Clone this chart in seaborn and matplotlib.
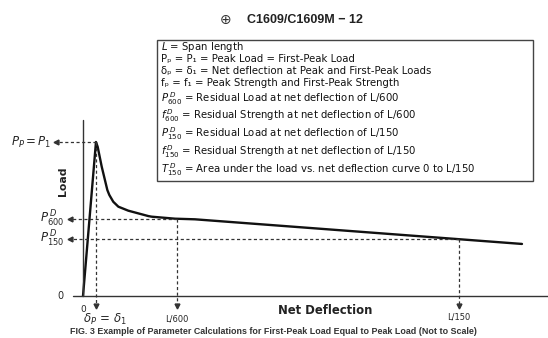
import numpy as np
import pandas as pd
import matplotlib
matplotlib.use("Agg")
import matplotlib.pyplot as plt
import matplotlib.patches as mpatches
import seaborn as sns

# ---- data (deflection in units of L/600, load in % of peak) ----
deflection = [0, 0.138, 0.156, 0.199, 0.259, 0.280, 0.322, 0.376, 0.482, 0.695, 0.731, 0.979, 1.191, 4.67]
load = [0, 100, 96.9, 84.0, 68.8, 65.6, 61.2, 58.0, 55.4, 51.9, 51.5, 50.2, 49.8, 33.8]
peak_defl = 0.138
peak_load = 100.0
L600 = 1.0
L150 = 4.0
P600 = 50.0
P150 = 37.0
x_tick_labels = ["0", r"$\delta_P\,=\,\delta_1$", "L/600", "L/150"]
y_tick_labels = ["0", r"$P_P = P_1$", r"$P_{600}^{\,D}$", r"$P_{150}^{\,D}$"]
legend_lines = [
    r"$L$ = Span length",
    "P\u209a = P\u2081 = Peak Load = First-Peak Load",
    "\u03b4\u209a = \u03b4\u2081 = Net deflection at Peak and First-Peak Loads",
    "f\u209a = f\u2081 = Peak Strength and First-Peak Strength",
    r"$P_{600}^{\,D}$ = Residual Load at net deflection of L/600",
    r"$f_{600}^{\,D}$ = Residual Strength at net deflection of L/600",
    r"$P_{150}^{\,D}$ = Residual Load at net deflection of L/150",
    r"$f_{150}^{\,D}$ = Residual Strength at net deflection of L/150",
    r"$T_{150}^{\,D}$ = Area under the load vs. net deflection curve 0 to L/150",
]
title = "C1609/C1609M \u2212 12"
caption = "FIG. 3 Example of Parameter Calculations for First-Peak Load Equal to Peak Load (Not to Scale)"

sns.set_style("white")
plt.rcParams["font.family"] = ["DejaVu Sans"]
plt.rcParams["mathtext.fontset"] = "dejavusans"

W, H = 548, 338
fig = plt.figure(figsize=(W / 100, H / 100), dpi=100)
ax = fig.add_axes([0, 0, 1, 1])
ax.set_xlim(-83 / 94, 465 / 94)
ax.set_ylim(-42 / 1.54, 296 / 1.54)
ax.axis("off")

def px(x, y):
    return (x / W, 1 - y / H)

df = pd.DataFrame({"Net Deflection": deflection, "Load": load})
sns.lineplot(data=df, x="Net Deflection", y="Load", ax=ax, color="#111111",
             linewidth=1.7, sort=False, estimator=None)

# axes lines
ax.plot([-0.106, 4.95], [0, 0], color="#333333", lw=1.0)
ax.plot([0, 0], [0, 114], color="#333333", lw=1.0)

dash = dict(color="#333333", lw=0.9, ls=(0, (2.5, 2)))
y_arrow_bottom = -6.5
x_arrow_peak = (56 - 83) / 94
x_arrow_res = (70 - 83) / 94
# horizontal dashed lines with arrows to labels
ax.plot([peak_defl, x_arrow_peak], [peak_load, peak_load], **dash)
ax.plot([L600, x_arrow_res], [P600, P600], **dash)
ax.plot([L150, x_arrow_res], [P150, P150], **dash)
ax.plot([x_arrow_peak], [peak_load], marker="<", ms=3.5, color="#333333")
ax.plot([x_arrow_res, x_arrow_res], [P600, P150], ls="none", marker="<", ms=3.5, color="#333333")
# vertical dashed lines with arrows below axis
ax.plot([peak_defl, peak_defl], [peak_load, y_arrow_bottom], **dash)
ax.plot([L600, L600], [P600, y_arrow_bottom], **dash)
ax.plot([L150, L150], [P150, y_arrow_bottom], **dash)
ax.plot([peak_defl, L600, L150], [y_arrow_bottom] * 3, ls="none", marker="v", ms=3.5, color="#333333")

# y labels
ax.text((63 - 83) / 94, 0, y_tick_labels[0], ha="right", va="center", fontsize=7)
ax.text((51 - 83) / 94, peak_load, y_tick_labels[1], ha="right", va="center", fontsize=8.5)
ax.text((64 - 83) / 94, P600, y_tick_labels[2], ha="right", va="center", fontsize=8.5)
ax.text((64 - 83) / 94, P150, y_tick_labels[3], ha="right", va="center", fontsize=8.5)

# x labels
ax.text(0, -8.5, x_tick_labels[0], ha="center", va="center", fontsize=6.5)
ax.text((105 - 83) / 94, -15.5, x_tick_labels[1], ha="center", va="center", fontsize=8.5)
ax.text(L600, -15, x_tick_labels[2], ha="center", va="center", fontsize=6)
ax.text(L150, -13.5, x_tick_labels[3], ha="center", va="center", fontsize=6)

# axis titles
fig.text(*px(325, 310), "Net Deflection", ha="center", va="center", fontsize=8.4,
         fontweight="bold", color="#222222")
fig.text(*px(63, 181), "Load", ha="center", va="center", fontsize=7.8,
         fontweight="bold", rotation=90, color="#222222")

# legend box
x0, y0, x1, y1 = 157, 40, 533, 181
fig.patches.append(mpatches.Rectangle(px(x0, y1), (x1 - x0) / W, (y1 - y0) / H,
                                      transform=fig.transFigure, fill=False,
                                      edgecolor="#444444", lw=1.0))
line_y = [47, 59, 71, 83, 98.5, 116, 134, 152, 170]
for t, yy in zip(legend_lines, line_y):
    fig.text(*px(161, yy), t, ha="left", va="center", fontsize=7.3, color="#111111")

# header
fig.text(*px(305, 20), title, ha="center", va="center", fontsize=9, fontweight="bold",
         family="Liberation Sans", color="#222222")
fig.text(*px(226, 20), "\u2295", ha="center", va="center", fontsize=10, color="#333333")

# caption
fig.text(*px(273, 332), caption, ha="center", va="center", fontsize=6.4, fontweight="bold",
         family="Liberation Sans", color="#333333")

fig.savefig("out.png", dpi=100)
